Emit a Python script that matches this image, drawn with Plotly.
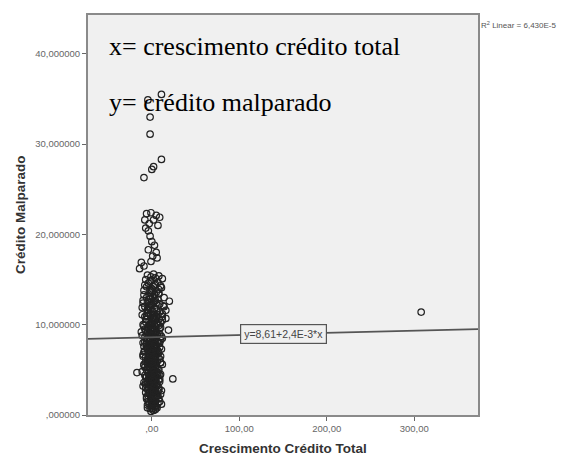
import plotly.graph_objects as go

# ---- data ----
x_upper = [
    11, -4.5, -2, -2, 11, 2, 0, -9,
    -6, -1, 5, 9, -8, -3, 2, -7, -4, 7, -2,
    0, 3, -4, 5, 1, -1, 6, -12, -9, -14,
]
y_upper = [
    35.5, 34.9, 33.0, 31.1, 28.3, 27.5, 27.2, 26.3,
    22.3, 22.4, 22.1, 21.9, 21.6, 21.2, 21.6, 20.7, 20.4, 21.0, 19.8,
    19.2, 18.8, 18.3, 18.0, 17.6, 17.0, 17.4, 16.9, 16.5, 16.2,
]
x_core = [
    -5, -1, 2, 4, 8, 12, -7, 0,
    -4, 3, 7, -6, 0, 10, -2, 5,
    -9, 1, 8, -1, 4, 14, -5, 20,
    0, -8, 9, 3, -4, 6, -11, 12,
    -1, 2, -6, 5, 16, -3, 10, 0,
    -10, 4, -5, 8, -1, 3, 19, -12, 0, 6, -4, 11, -8, 1, 4, -3, 9, -6, 0, 5, -1, 3, -5, 7, -9, 2, -3, 4, 0, -4, 7, -1, 3, -7, 10, 0, -2, 5, 1, -5, 4, -1, 8,
    -17, 0, 3, -4, 6, -1, 1, -7, 4, 24, 0, -3, 9, 2, -5, 1, 5, -1, 0, 4, -4, 7, 1, -3, 10, 0, -6, 3, 8, -1, 4, 0, 11, -5, 1, 6, -2, 4,
    -4, 2, 5, -2, 0, 3, -5, 7, -1, 4, 1, -4, 6, -1, 3, -5, 0, 4, -3, 2, -1, 6, -4, 3, 0, -2, 4, 1, -1, 5, 3, 0, -4, 8, -7, 9, -9, 10, -10, 9, -8, 12, -7, 14, -10, 16, 8, -2, 2, 4, -5, 0, 3, -1,
    1, -1, 2, -2, 1, -1, 3, -3, 2, -2, 1, 3, -3, 2, -1, 1, -2, 3, -1, 2,
]
y_core = [
    15.5, 15.3, 15.6, 15.2, 15.4, 15.1, 15.0, 14.9,
    14.6, 14.4, 14.7, 14.2, 14.0, 14.3, 13.8, 13.6,
    13.3, 13.1, 13.4, 12.9, 12.7, 13.0, 12.5, 12.6,
    12.2, 12.0, 12.3, 11.8, 11.6, 11.5, 11.9, 11.2,
    11.0, 10.8, 10.6, 10.9, 10.7, 10.4, 10.2, 10.1,
    10.0, 9.8, 9.6, 9.9, 9.5, 9.3, 9.4, 9.2, 9.0, 8.9, 8.8, 8.7, 8.6, 8.5, 8.3, 8.2, 8.0, 7.9, 7.8, 7.6, 7.5, 7.4, 7.3, 7.1, 7.0, 6.9, 6.8, 6.6, 6.5, 6.4, 6.3, 6.2, 6.0, 5.9, 5.8, 5.7, 5.6, 5.5, 5.4, 5.3, 5.2, 5.1, 5.0,
    4.7, 4.9, 4.7, 4.6, 4.5, 4.4, 4.3, 4.2, 4.1, 4.0, 3.9, 3.8, 3.7, 3.6, 3.5, 3.4, 3.3, 3.2, 3.0, 2.9, 2.8, 2.6, 2.5, 2.4, 2.3, 2.2, 2.0, 1.9, 1.8, 1.7, 1.5, 1.4, 1.2, 1.1, 1.0, 0.8, 0.7, 0.6,
    9.7, 9.6, 9.2, 9.1, 8.7, 8.6, 8.4, 8.1, 7.9, 7.7, 7.2, 7.0, 6.8, 6.6, 6.3, 6.1, 6.0, 5.8, 5.3, 5.0, 4.8, 4.8, 4.0, 4.2, 3.6, 3.1, 3.8, 2.7, 2.1, 2.1, 1.2, 0.9, 1.5, 3.0, 3.4, 4.4, 5.6, 6.5, 6.7, 9.0, 8.1, 10.5, 10.3, 12.0, 12.7, 11.6, 13.9, 14.8, 12.5, 10.6, 11.3, 11.5, 13.3, 13.5,
    7.0, 6.3, 5.7, 8.3, 4.5, 3.4, 6.9, 5.9, 9.0, 4.3, 8.0, 4.9, 7.6, 2.9, 9.9, 10.8, 12.2, 11.1, 1.9, 1.3,
]
x_core_extra = [
    -9, 11, -3, 7, -10, 13, -5, 9, -11, 12, -7, 6, -2, 10, -8, 4, -11, 12, -6, 8, -9, 11, -3, 6, -10, 9, -5, 12, -8, 7, -11, 10, -6, 8, -9, 5, -7, 11, -4, 7, -6, 9, -3, 5, 2, -1,
    -2, 3, 0, -4, 5, 1, -6, 3, -1, 6, -4, 2, -7, 7, -2, 4, -5, 1, 6, -3, 3, -6, 0, 5, -2, 8, -4, 2, -7, 4, -1, 6, -5, 1, -3, 4, -6, 2, 7, -2, 0, 5, -4, 2, -7, 6, -1, 3, -5, 0, 4, -2, 6, 1, -4, 3, 0, -1, 4, 1,
    -8, 8, -9, 9, -10, 10, -8, 9, -9, 10, -8, 9, -10, 8, -7, 7, -5, -6, 8, 4, -8, 2, -3, 5, 0, 3, -1, 1, -3, 3, -1, 2, -3, 1, 0, -2, 2, -5, 5, -6, 7,
]
y_core_extra = [
    13.8, 14.1, 13.2, 12.8, 12.4, 12.1, 11.7, 11.4, 11.1, 10.9, 10.6, 10.3, 10.0, 9.7, 9.5, 9.1, 8.8, 8.5, 8.2, 7.9, 7.6, 7.3, 7.1, 6.8, 6.5, 6.2, 5.9, 5.6, 5.3, 5.0, 4.8, 4.5, 4.2, 3.9, 3.6, 3.3, 3.0, 2.7, 2.4, 2.1, 1.8, 1.5, 1.2, 0.9, 0.5, 0.4,
    12.9, 12.6, 12.3, 11.9, 11.7, 11.4, 11.0, 10.7, 10.3, 10.0, 9.8, 9.5, 9.3, 9.1, 8.9, 8.7, 8.5, 8.3, 8.1, 7.9, 7.8, 7.6, 7.4, 7.2, 7.0, 6.9, 6.7, 6.5, 6.4, 6.2, 6.0, 5.9, 5.7, 5.5, 5.3, 5.2, 5.0, 4.8, 4.6, 4.5, 4.3, 4.1, 3.9, 3.7, 3.6, 3.5, 3.3, 3.1, 2.9, 2.7, 2.5, 2.3, 2.2, 2.0, 1.8, 1.6, 1.5, 1.1, 1.0, 0.7,
    10.9, 10.6, 9.9, 9.6, 8.0, 8.3, 7.1, 7.5, 5.5, 5.8, 4.4, 4.0, 3.2, 2.8, 2.5, 1.3, 0.8, 13.0, 13.5, 14.5, 14.4, 14.2, 12.0, 12.4, 13.7, 9.9, 9.4, 7.1, 6.1, 4.5, 5.8, 2.6, 3.5, 3.9, 8.8, 11.2, 10.4, 7.3, 6.6, 9.0, 11.1,
]
x_outlier = [308]
y_outlier = [11.4]

fit_intercept = 8.61
fit_slope = 0.0024
x_ticks = [0, 100, 200, 300]
x_ticktext = [",00", "100,00", "200,00", "300,00"]
y_ticks = [0, 10, 20, 30, 40]
y_ticktext = [",000000", "10,000000", "20,000000", "30,000000", "40,000000"]
x_range = [-73, 373]
y_range = [0, 44.3]

x_vals = x_upper + x_core + x_core_extra + x_outlier
y_vals = y_upper + y_core + y_core_extra + y_outlier

fig = go.Figure()
fig.add_trace(go.Scatter(
    x=x_vals, y=y_vals, mode="markers",
    marker=dict(symbol="circle-open", size=6.5, color="#222222", line=dict(width=1.2)),
    showlegend=False, hoverinfo="skip",
))
fit_x = x_range
fit_y = [fit_intercept + fit_slope * v for v in fit_x]
fig.add_trace(go.Scatter(
    x=fit_x, y=fit_y, mode="lines",
    line=dict(color="#555555", width=1.8), showlegend=False, hoverinfo="skip",
))

tickfont = dict(family="Liberation Sans, Arial", size=9.5, color="#666666")
fig.update_layout(
    width=571, height=457,
    margin=dict(l=88, r=93, t=15, b=42),
    paper_bgcolor="white", plot_bgcolor="#f0f0f0",
    xaxis=dict(range=x_range, tickvals=x_ticks, ticktext=x_ticktext,
               showgrid=False, zeroline=False, showline=True, mirror=True,
               linecolor="#8a8a8a", linewidth=2, ticks="outside", ticklen=4,
               tickcolor="#666666", tickfont=tickfont),
    yaxis=dict(range=y_range, tickvals=y_ticks, ticktext=y_ticktext,
               showgrid=False, zeroline=False, showline=True, mirror=True,
               linecolor="#8a8a8a", linewidth=2, ticks="outside", ticklen=4,
               tickcolor="#666666", tickfont=tickfont),
)

PW, PH = 571 - 88 - 93, 457 - 15 - 42


def px(xp):
    return (xp - 88) / PW


def py(yp):
    return 1 - (yp - 15) / PH


label_x = 150
fig.add_annotation(
    x=label_x, y=fit_intercept + fit_slope * label_x, xref="x", yref="y",
    text="y=8,61+2,4E-3*x", showarrow=False,
    font=dict(family="Liberation Sans, Arial", size=10.5, color="#444444"),
    bgcolor="#f0f0f0", bordercolor="#555555", borderwidth=1.2, borderpad=3,
)
fig.add_annotation(
    x=px(479), y=py(25), xref="paper", yref="paper", xanchor="left", yanchor="middle",
    text="R<sup>2</sup> Linear = 6,430E-5", showarrow=False,
    font=dict(family="Liberation Sans, Arial", size=8, color="#555555"),
)

serif = dict(family="Liberation Serif, Times New Roman", size=26, color="black")
fig.add_annotation(x=px(107), y=py(46), xref="paper", yref="paper",
                   xanchor="left", yanchor="middle", showarrow=False,
                   text="x= crescimento crédito total", font=serif)
fig.add_annotation(x=px(107), y=py(103), xref="paper", yref="paper",
                   xanchor="left", yanchor="middle", showarrow=False,
                   text="y= crédito malparado", font=serif)

titlefont = dict(family="Liberation Sans, Arial", size=13.5, color="#333333")
fig.add_annotation(x=px(283), y=py(448), xref="paper", yref="paper",
                   xanchor="center", yanchor="middle", showarrow=False,
                   text="<b>Crescimento Crédito Total</b>", font=titlefont)
fig.add_annotation(x=px(20), y=py(215), xref="paper", yref="paper",
                   xanchor="center", yanchor="middle", showarrow=False, textangle=-90,
                   text="<b>Crédito Malparado</b>", font=titlefont)

fig.write_html("out.html")
